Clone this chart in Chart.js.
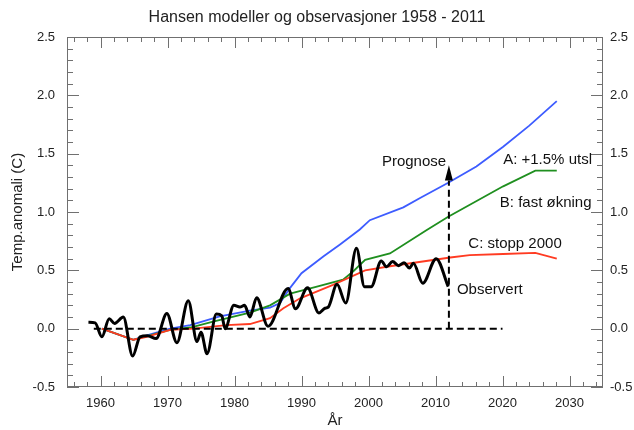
<!DOCTYPE html>
<html><head><meta charset="utf-8">
<script src="https://cdn.jsdelivr.net/npm/chart.js@4.4.1/dist/chart.umd.min.js"></script>
<style>html,body{margin:0;padding:0;background:#fff}#wrap{width:634px;height:430px}</style>
</head><body><div id="wrap"><canvas id="c" width="634" height="430"></canvas></div>
<script>
// ---- data ----
const obsYears  = [1958.2,1959.2,1960.2,1961.3,1962.1,1963.4,1964.8,1965.9,1967.0,1968.3,1969.9,1971.4,1973.1,1974.4,1975.0,1975.9,1977.3,1978.1,1978.6,1979.9,1980.8,1981.5,1982.3,1983.3,1985.0,1988.0,1989.1,1990.9,1992.6,1993.5,1994.0,1995.3,1996.6,1998.2,1999.4,2000.4,2001.9,2002.7,2003.6,2004.5,2005.3,2006.1,2006.7,2008.1,2010.1,2011.9];
const obsValues = [0.055,0.05,-0.07,0.085,0.045,0.10,-0.235,-0.07,-0.06,-0.085,0.13,-0.12,0.24,-0.11,-0.03,-0.215,0.125,0.11,0.0,0.20,0.185,0.20,0.10,0.265,0.02,0.345,0.17,0.35,0.135,0.175,0.185,0.38,0.22,0.69,0.36,0.36,0.58,0.53,0.575,0.54,0.565,0.52,0.56,0.39,0.60,0.36];

const aYears  = [1960.2,1964.9,1966.8,1970.4,1973.4,1977.8,1982.3,1985.3,1986.8,1988.3,1990.0,1993.3,1995.7,1998.7,2000.2,2005.2,2007.7,2011.9,2016.1,2020.1,2024.0,2028.1];
const aValues = [0.0,-0.095,-0.06,0.0,0.03,0.105,0.155,0.18,0.22,0.35,0.475,0.62,0.72,0.85,0.93,1.04,1.12,1.25,1.39,1.56,1.74,1.95];

const bYears  = [1960.2,1964.9,1966.8,1970.4,1973.4,1976.8,1982.3,1985.3,1988.3,1992.3,1996.2,1997.7,1999.5,2003.2,2008.7,2011.9,2016.0,2020.1,2024.9,2028.1];
const bValues = [0.0,-0.095,-0.065,-0.01,0.01,0.06,0.137,0.20,0.30,0.36,0.42,0.49,0.59,0.645,0.845,0.96,1.09,1.22,1.355,1.355];

const cYears  = [1960.2,1964.9,1966.9,1970.4,1973.9,1978.8,1982.3,1985.3,1987.3,1989.8,1994.7,1999.5,2003.2,2012.2,2015.1,2020.1,2024.9,2028.1];
const cValues = [0.0,-0.095,-0.07,-0.01,0.0,0.03,0.04,0.09,0.175,0.26,0.375,0.50,0.535,0.61,0.63,0.64,0.65,0.60];

const zeroYears = [1959, 2020];
const zeroValues = [0, 0];
const prognoseYears = [2012, 2012];
const prognoseValues = [0, 1.27];
const arrowTipValue = 1.40;

const xTickLabels = [1960,1970,1980,1990,2000,2010,2020,2030];
const yTickLabels = [-0.5,0.0,0.5,1.0,1.5,2.0,2.5];

const notes = [
  {text:'Prognose',       year:2002.0, value:1.43},
  {text:'A: +1.5% utsl',  year:2020.1, value:1.445},
  {text:'B: fast økning', year:2019.6, value:1.075},
  {text:'C: stopp 2000',  year:2014.9, value:0.725},
  {text:'Observert',      year:2013.2, value:0.33}
];

// ---- helpers ----
const pts = (xs, ys) => xs.map((x, i) => ({x, y: ys[i]}));
const FONT = "'Liberation Sans', Arial, Helvetica, sans-serif";
const TXT = '#222';
const AX = '#707070';

const frameTicks = {
  id: 'frameTicks',
  afterDatasetsDraw(chart) {
    const {ctx, chartArea: a, scales: {x, y}} = chart;
    ctx.save();
    ctx.strokeStyle = AX; ctx.lineWidth = 1;
    ctx.strokeRect(Math.round(a.left) + 0.5, Math.round(a.top) + 0.5,
                   Math.round(a.right - a.left) - 1, Math.round(a.bottom - a.top) - 1);
    const seg = (x1, y1, x2, y2) => { ctx.beginPath(); ctx.moveTo(x1, y1); ctx.lineTo(x2, y2); ctx.stroke(); };
    for (let v = 1956; v <= 2034; v += 2) {
      const len = v % 10 === 0 ? 11 : 5;
      const px = Math.round(x.getPixelForValue(v)) + 0.5;
      seg(px, a.bottom, px, a.bottom - len);
      seg(px, a.top, px, a.top + len);
    }
    for (let i = -5; i <= 25; i++) {
      const len = i % 5 === 0 ? 12 : 6;
      const py = Math.round(y.getPixelForValue(i / 10)) + 0.5;
      seg(a.left, py, a.left + len, py);
      seg(a.right, py, a.right - len, py);
    }
    // arrow head on the Prognose line
    const ax = x.getPixelForValue(prognoseYears[1]);
    const ab = y.getPixelForValue(prognoseValues[1]);
    const at = y.getPixelForValue(arrowTipValue);
    ctx.fillStyle = '#000';
    ctx.beginPath(); ctx.moveTo(ax, at); ctx.lineTo(ax - 4, ab); ctx.lineTo(ax + 4, ab); ctx.closePath(); ctx.fill();
    // text notes
    ctx.font = '15px ' + FONT;
    ctx.fillStyle = '#111';
    ctx.textBaseline = 'middle'; ctx.textAlign = 'left';
    notes.forEach(n => ctx.fillText(n.text, x.getPixelForValue(n.year), y.getPixelForValue(n.value)));
    ctx.restore();
  }
};

const yTicksOpt = {
  color: TXT, font: {family: FONT, size: 13},
  callback: v => Number(v).toFixed(1)
};

new Chart(document.getElementById('c'), {
  type: 'line',
  data: {
    datasets: [
      {label: 'Observert', data: pts(obsYears, obsValues), borderColor: '#000', borderWidth: 3,
       cubicInterpolationMode: 'monotone', pointRadius: 0},
      {label: 'zero', data: pts(zeroYears, zeroValues), borderColor: '#000', borderWidth: 2,
       borderDash: [7, 4], pointRadius: 0, tension: 0},
      {label: 'Prognose', data: pts(prognoseYears, prognoseValues), borderColor: '#000', borderWidth: 2,
       borderDash: [7, 4], pointRadius: 0, tension: 0},
      {label: 'C', data: pts(cYears, cValues), borderColor: '#ff3b22', borderWidth: 1.8, pointRadius: 0, tension: 0},
      {label: 'B', data: pts(bYears, bValues), borderColor: '#1f8f1f', borderWidth: 1.8, pointRadius: 0, tension: 0},
      {label: 'A', data: pts(aYears, aValues), borderColor: '#3d5cff', borderWidth: 1.8, pointRadius: 0, tension: 0}
    ]
  },
  options: {
    responsive: false, animation: false, devicePixelRatio: 1,
    layout: {padding: 0},
    plugins: {
      legend: {display: false}, tooltip: {enabled: false},
      title: {display: true, text: 'Hansen modeller og observasjoner 1958 - 2011', color: TXT,
              font: {family: FONT, size: 16, weight: 'normal'}, padding: {top: 8, bottom: 9.8}}
    },
    scales: {
      x: {
        type: 'linear', position: 'bottom', min: 1955, max: 2035,
        grid: {display: false, drawTicks: false}, border: {display: false},
        afterBuildTicks: s => { s.ticks = xTickLabels.map(v => ({value: v})); },
        afterFit: s => { s.height = 43; },
        ticks: {color: TXT, font: {family: FONT, size: 13}, padding: 9, maxRotation: 0,
                callback: v => String(v)},
        title: {display: true, text: 'År', color: TXT, font: {family: FONT, size: 15}, padding: {top: 0, bottom: 0}}
      },
      y: {
        type: 'linear', position: 'left', min: -0.5, max: 2.5,
        grid: {display: false, drawTicks: false}, border: {display: false},
        afterBuildTicks: s => { s.ticks = yTickLabels.map(v => ({value: v})); },
        afterFit: s => { s.width = 67; },
        ticks: Object.assign({padding: 12}, yTicksOpt),
        title: {display: true, text: 'Temp.anomali (C)', color: TXT, font: {family: FONT, size: 15}, padding: {top: 9, bottom: 0}}
      },
      y2: {
        type: 'linear', position: 'right', min: -0.5, max: 2.5,
        grid: {display: false, drawTicks: false}, border: {display: false},
        afterBuildTicks: s => { s.ticks = yTickLabels.map(v => ({value: v})); },
        afterFit: s => { s.width = 31; },
        ticks: Object.assign({padding: 7}, yTicksOpt)
      }
    }
  },
  plugins: [frameTicks]
});
</script>
</body></html>
